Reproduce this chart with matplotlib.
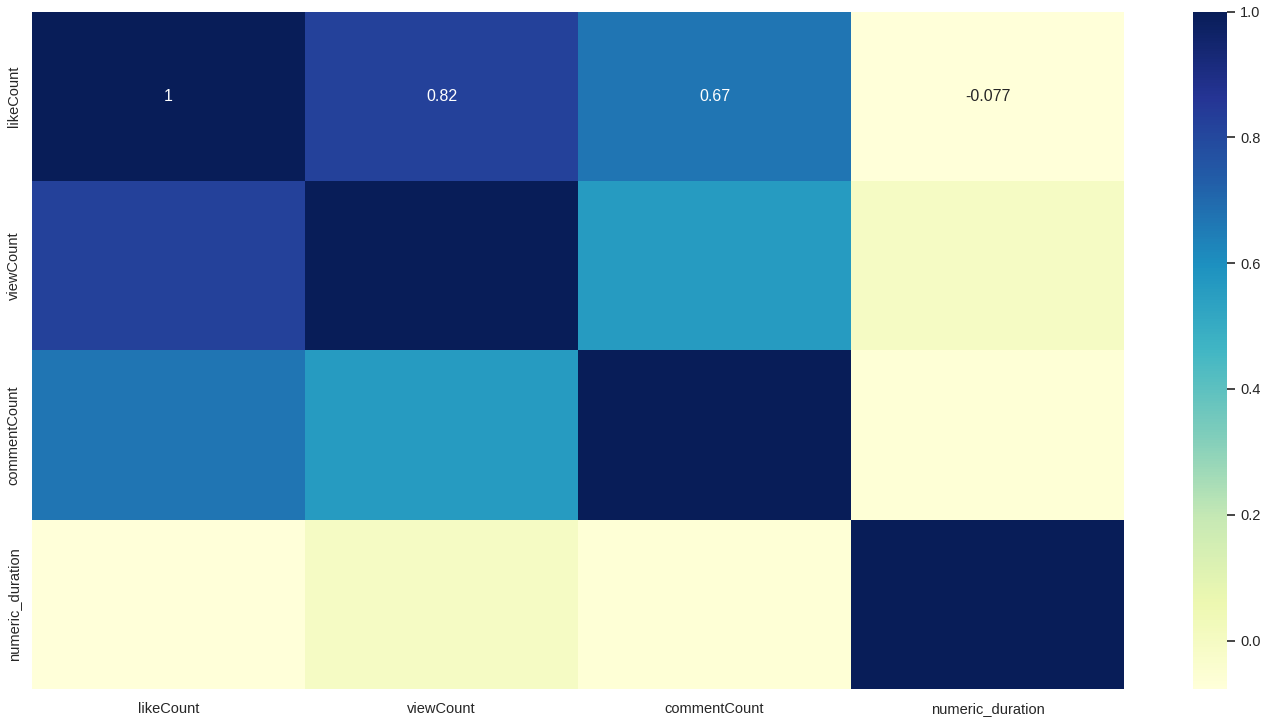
import numpy as np
import matplotlib
matplotlib.use("Agg")
import matplotlib.pyplot as plt
import seaborn as sns
import pandas as pd

sns.set_theme(style="white")
plt.rcParams['font.family'] = ['Liberation Sans', 'DejaVu Sans']

labels = ["likeCount", "viewCount", "commentCount", "numeric_duration"]
row_like = [1.0, 0.82, 0.67, -0.077]
row_view = [0.82, 1.0, 0.56, -0.005]
row_comment = [0.67, 0.56, 1.0, -0.065]
row_duration = [-0.077, -0.005, -0.065, 1.0]

corr = pd.DataFrame([row_like, row_view, row_comment, row_duration],
                    index=labels, columns=labels)

fig = plt.figure(figsize=(12.63, 7.23), dpi=100)
ax = fig.add_axes([0.0253, 0.047, 0.8646, 0.937])
cax = fig.add_axes([0.9446, 0.047, 0.0270, 0.937])

sns.heatmap(corr, cmap="YlGnBu", ax=ax, cbar_ax=cax)

# only the first row carries annotations (as in the original render)
for j, v in enumerate(row_like):
    norm = (v - corr.values.min()) / (corr.values.max() - corr.values.min())
    color = "white" if norm > 0.5 else "#262626"
    ax.text(j + 0.5, 0.5, f"{v:.2g}", ha="center", va="center",
            color=color, fontsize=11.5)

ax.tick_params(axis="x", length=0, pad=9, labelsize=10.5, colors="#262626")
ax.tick_params(axis="y", length=0, pad=8, labelsize=10.5, colors="#262626")
cax.tick_params(axis="y", length=6, width=1.2, pad=3.5, color="#262626",
                labelsize=10.5, labelcolor="#262626", right=True)
cax.set_yticks([0.0, 0.2, 0.4, 0.6, 0.8, 1.0])

fig.savefig("out.png", dpi=100)
